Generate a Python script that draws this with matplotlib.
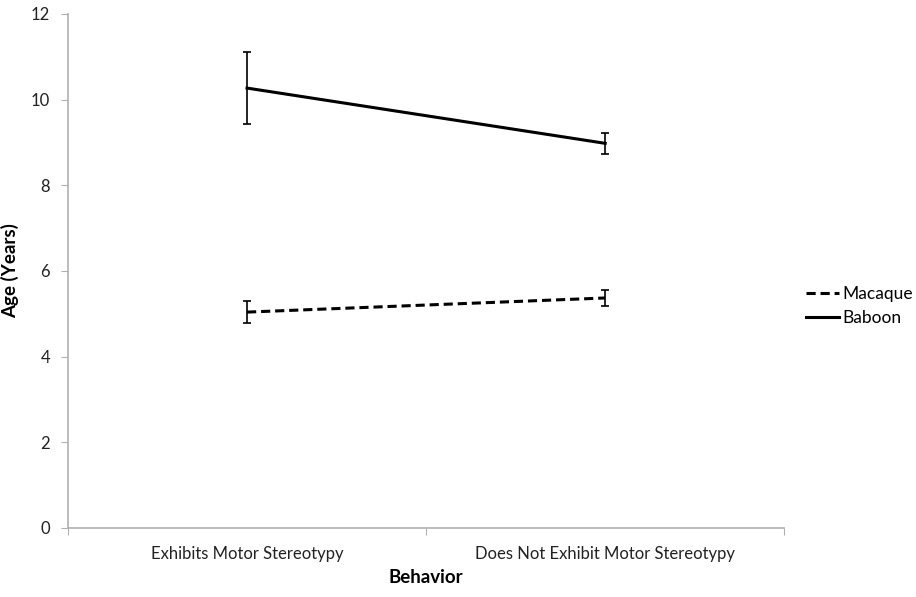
import matplotlib
matplotlib.use("Agg")
import matplotlib.pyplot as plt
from matplotlib.lines import Line2D

categories = ["Exhibits Motor Stereotypy", "Does Not Exhibit Motor Stereotypy"]
macaque = [5.04, 5.37]
macaque_err = [0.26, 0.19]
baboon = [10.27, 8.98]
baboon_err = [0.84, 0.24]

plt.rcParams['font.family'] = ['Lato', 'DejaVu Sans']

fig = plt.figure(figsize=(9.16, 5.97), dpi=100)
ax = fig.add_axes([0.0742, 0.1156, 0.782, 0.861])

x = [0.5, 1.5]
dash = (0, (3, 1.6))
ax.errorbar(x, macaque, yerr=macaque_err, color='black', lw=2.2, ls=dash,
            capsize=3, elinewidth=1.2, capthick=1.2)
ax.errorbar(x, baboon, yerr=baboon_err, color='black', lw=2.2, ls='-',
            capsize=3, elinewidth=1.2, capthick=1.2)

ax.set_xlim(0, 2)
ax.set_ylim(0, 12)
ax.set_yticks(range(0, 13, 2))
ax.set_xticks([0, 1, 2])
ax.set_xticklabels([])
ax.set_xticks(x, minor=True)
ax.set_xticklabels(categories, minor=True)
ax.tick_params(axis='x', which='minor', length=0, pad=13, labelsize=12, colors='#222222')
ax.tick_params(axis='x', which='major', length=5, color='#b0b0b0')
ax.tick_params(axis='y', length=5, color='#b0b0b0', labelsize=12, labelcolor='#222222', pad=8)

for s in ['top', 'right']:
    ax.spines[s].set_visible(False)
for s in ['left', 'bottom']:
    ax.spines[s].set_color('#b0b0b0')
    ax.spines[s].set_linewidth(1.2)

ax.set_xlabel('Behavior', fontsize=13.5, fontweight='bold')
ax.xaxis.set_label_coords(0.5, -0.08)
ax.set_ylabel('Age (Years)', fontsize=13.5, fontweight='bold')
ax.yaxis.set_label_coords(-0.068, 0.5)

handles = [Line2D([], [], color='black', lw=2.2, ls=dash),
           Line2D([], [], color='black', lw=2.2, ls='-')]
ax.legend(handles, ['Macaque', 'Baboon'], loc='center left', bbox_to_anchor=(1.008, 0.432),
          frameon=False, fontsize=12.5, handlelength=1.9, handletextpad=0.2, labelspacing=0.45)
fig.savefig('out.png', dpi=100)
